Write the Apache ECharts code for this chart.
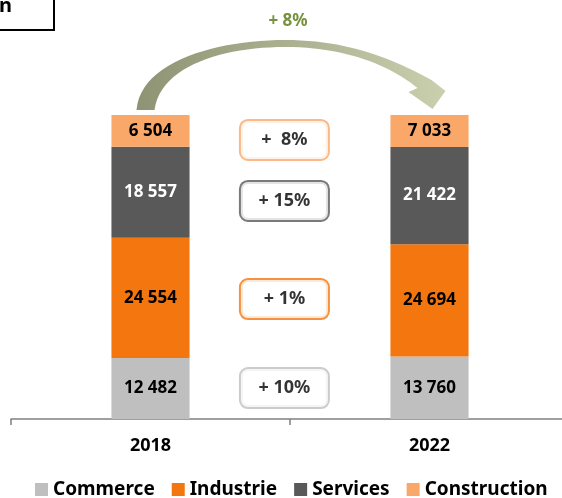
<!DOCTYPE html>
<html>
<head>
<meta charset="utf-8">
<script src="https://cdn.jsdelivr.net/npm/echarts@6/dist/echarts.min.js"></script>
<style>
  html, body { margin: 0; padding: 0; background: #fff; }
  #main { width: 562px; height: 498px; }
</style>
</head>
<body>
<div id="main"></div>
<script>
// données
const years = ['2018', '2022'];
const commerce = [12482, 13760];
const industrie = [24554, 24694];
const services = [18557, 21422];
const construction = [6504, 7033];
const growth = ['+ 10%', '+ 1%', '+ 15%', '+  8%'];   // commerce, industrie, services, construction
const totalGrowth = '+ 8%';

const FONT = '"Noto Sans", sans-serif';
const names = ['Commerce', 'Industrie', 'Services', 'Construction'];
const colors = ['#BFBFBF', '#F4760F', '#595959', '#FAA86A'];
const labelColors = ['#000', '#000', '#fff', '#000'];
const boxShift = [0, 0, 7, 9];   // décalage vertical des encadrés (px)
const raw = [commerce, industrie, services, construction];

// chaque colonne est ramenée à 100 %
const totals = years.map((y, i) => raw.reduce((s, arr) => s + arr[i], 0));
const shares = raw.map(arr => arr.map((v, i) => v / totals[i] * 100));

const fmt = v => String(v).replace(/\B(?=(\d{3})+(?!\d))/g, ' ');

const barSeries = names.map((name, k) => ({
  name: name,
  type: 'bar',
  stack: 'total',
  barWidth: '28%',
  itemStyle: { color: colors[k] },
  label: {
    show: true,
    position: 'inside',
    color: labelColors[k],
    fontFamily: FONT,
    fontWeight: 'bold',
    fontSize: 17,
    formatter: p => fmt(raw[k][p.dataIndex])
  },
  data: shares[k]
}));

// encadrés d'évolution, centrés sur le milieu moyen de chaque segment
const boxData = names.map((name, k) => {
  const mids = years.map((y, i) => {
    let below = 0;
    for (let j = 0; j < k; j++) below += shares[j][i];
    return below + shares[k][i] / 2;
  });
  return {
    value: [0.98, (mids[0] + mids[1]) / 2],
    label: { borderColor: colors[k], offset: [0, boxShift[k]] }
  };
});

const chart = echarts.init(document.getElementById('main'));

chart.setOption({
  animation: false,
  grid: { left: 11, width: 558, top: 115, bottom: 79, outerBoundsMode: 'none' },
  legend: {
    data: names,
    bottom: -6,
    left: 30,
    icon: 'rect',
    itemWidth: 13,
    itemHeight: 13,
    itemGap: 17,
    selectedMode: false,
    textStyle: { fontFamily: FONT, fontWeight: 'bold', fontSize: 19, color: '#000' }
  },
  xAxis: [{
    type: 'category',
    data: years,
    axisLine: { lineStyle: { color: '#808080', width: 1.5 } },
    axisTick: { show: true, length: 6, lineStyle: { color: '#808080', width: 1.5 } },
    axisLabel: { color: '#000', fontFamily: FONT, fontWeight: 'bold', fontSize: 18, margin: 18 }
  }, {
    type: 'value', min: 0, max: 2, show: false
  }],
  yAxis: { type: 'value', min: 0, max: 100, show: false },
  series: barSeries.concat([{
    type: 'scatter',
    xAxisIndex: 1,
    symbolSize: 0,
    silent: true,
    label: {
      show: true,
      position: 'inside',
      formatter: p => growth[p.dataIndex],
      backgroundColor: '#fff',
      borderWidth: 2,
      borderRadius: 7,
      width: 87,
      height: 38,
      lineHeight: 38,
      align: 'center',
      verticalAlign: 'middle',
      color: '#000',
      fontFamily: FONT,
      fontWeight: 'bold',
      fontSize: 18
    },
    data: boxData
  }])
});

// flèche courbe (polygone échantillonné sur des courbes de Bézier)
const x1 = chart.convertToPixel({ xAxisIndex: 0 }, years[0]);
const x2 = chart.convertToPixel({ xAxisIndex: 0 }, years[1]);
const yTop = chart.convertToPixel({ yAxisIndex: 0 }, 100);
const mx = (x1 + x2) / 2;

function bez(p0, c1, c2, p3, n) {
  const out = [];
  for (let i = 1; i <= n; i++) {
    const t = i / n, u = 1 - t;
    out.push([
      u * u * u * p0[0] + 3 * u * u * t * c1[0] + 3 * u * t * t * c2[0] + t * t * t * p3[0],
      u * u * u * p0[1] + 3 * u * u * t * c1[1] + 3 * u * t * t * c2[1] + t * t * t * p3[1]
    ]);
  }
  return out;
}

const A = [x1 - 14, yTop - 5];
const B = [mx - 5, yTop - 75];
const C = [x2 + 2, yTop - 35];
const D = [x2 - 12, yTop - 27];
const E = [mx - 5, yTop - 68];
const F = [x1 + 4, yTop - 5];
let pts = [A];
pts = pts.concat(bez(A, [x1 - 10, yTop - 55], [mx - 70, yTop - 75], B, 24));
pts = pts.concat(bez(B, [mx + 60, yTop - 75], [x2 - 35, yTop - 55], C, 24));
pts.push([x2 + 16, yTop - 24], [x2 + 3, yTop - 6], [x2 - 21, yTop - 23], D);
pts = pts.concat(bez(D, [x2 - 40, yTop - 50], [mx + 55, yTop - 68], E, 24));
pts = pts.concat(bez(E, [mx - 65, yTop - 68], [x1 + 10, yTop - 50], F, 24));

chart.setOption({
  graphic: [
    {
      type: 'polygon',
      shape: { points: pts },
      style: {
        fill: {
          type: 'linear', x: 0, y: 0, x2: 1, y2: 0,
          colorStops: [
            { offset: 0, color: '#8D9373' },
            { offset: 1, color: '#CACFAE' }
          ]
        }
      },
      silent: true
    },
    {
      type: 'text',
      style: {
        text: totalGrowth,
        x: mx - 2, y: 21,
        align: 'center', verticalAlign: 'middle',
        fill: '#76923C',
        font: 'bold 17px ' + FONT
      }
    },
    {
      type: 'rect',
      shape: { x: -5, y: -5, width: 59, height: 35 },
      style: { fill: 'none', stroke: '#000', lineWidth: 2 }
    },
    {
      type: 'text',
      style: {
        text: 'n',
        x: -1, y: 6,
        align: 'left', verticalAlign: 'middle',
        fill: '#000',
        font: 'bold 20px ' + FONT
      }
    }
  ]
});
</script>
</body>
</html>
